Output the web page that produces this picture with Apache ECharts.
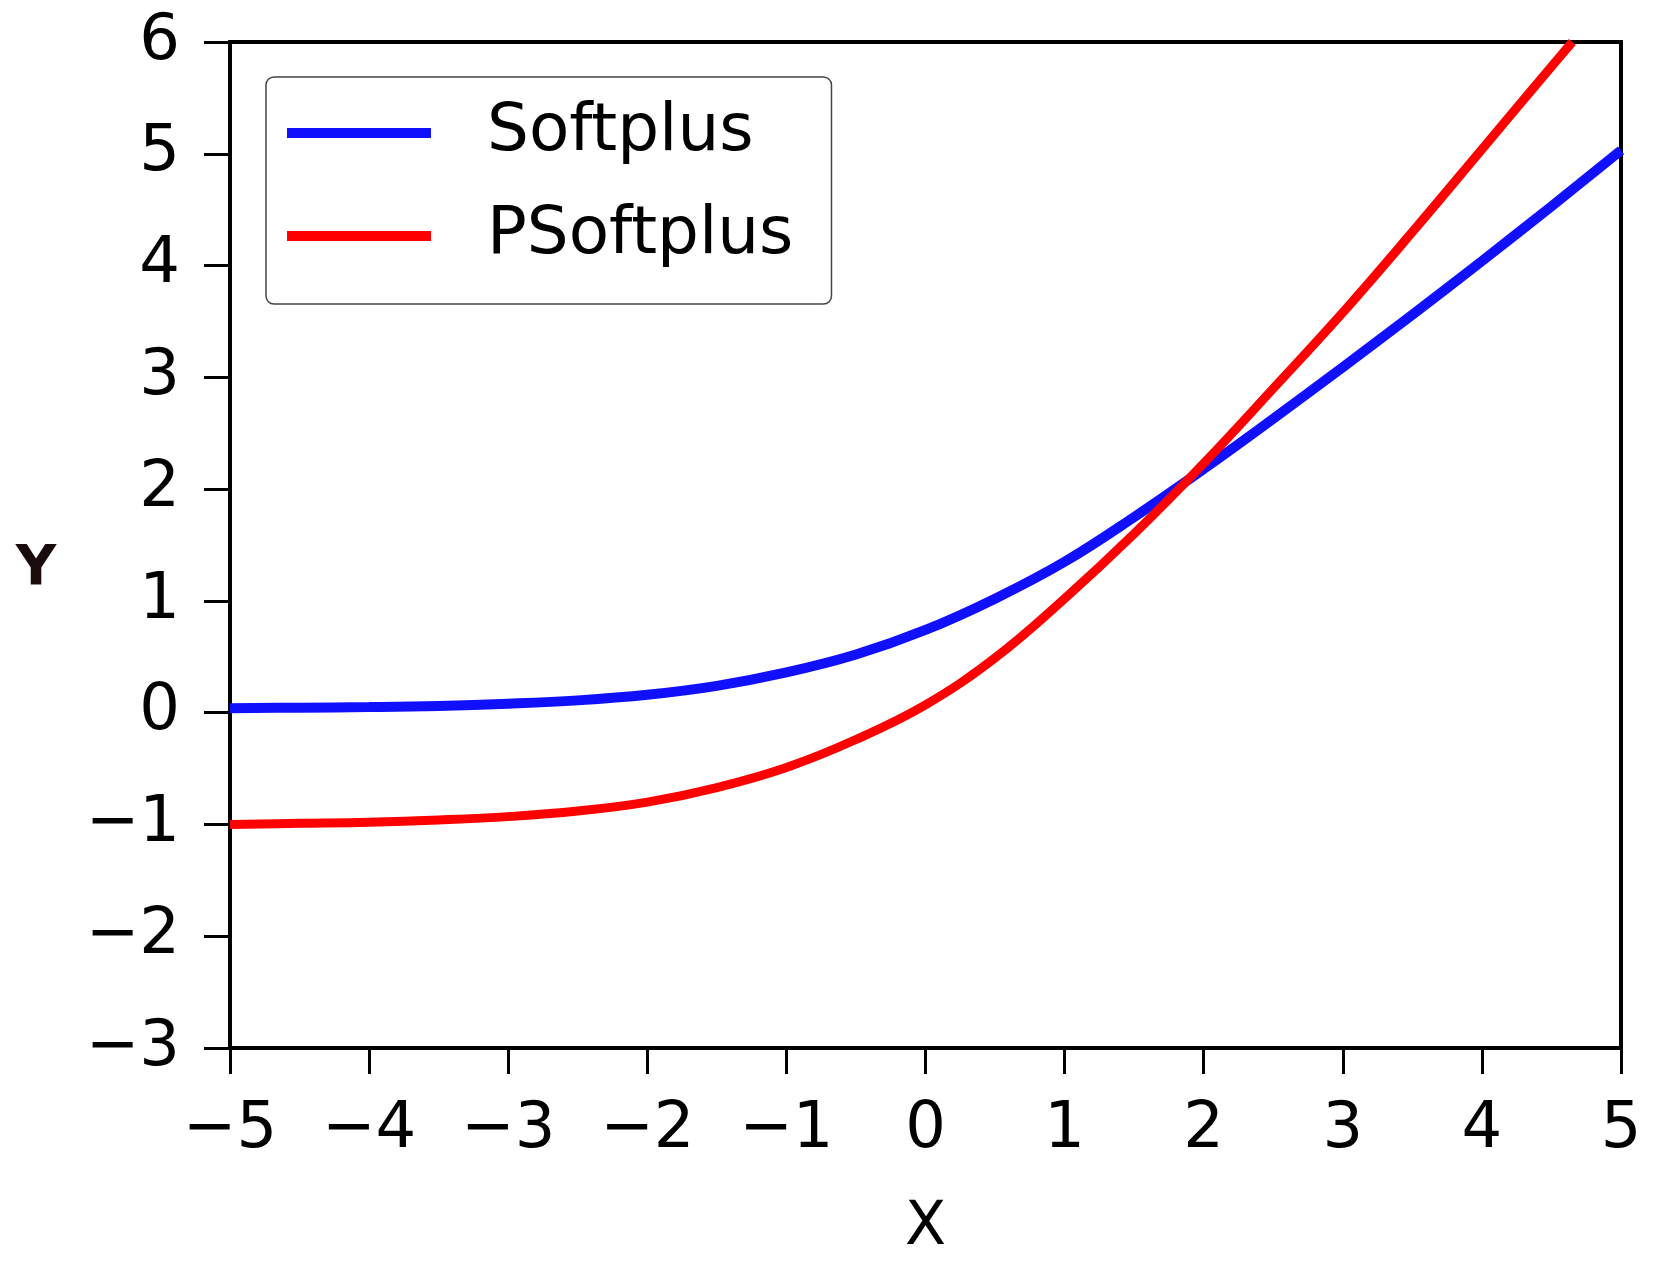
<!DOCTYPE html>
<html>
<head>
<meta charset="utf-8">
<script src="https://cdn.jsdelivr.net/npm/echarts@6/dist/echarts.min.js"></script>
<style>
html,body{margin:0;padding:0;background:#fff;}
#chart{width:1668px;height:1286px;}
</style>
</head>
<body>
<div id="chart"></div>
<script>
// x positions of the sampled points
const xValues = [-5,-4.5,-4,-3.5,-3,-2.5,-2,-1.5,-1,-0.5,0,0.5,1,1.5,2,2.5,3,3.5,4,4.5,5];
// Softplus (blue)
const softplusValues = [0.04,0.045,0.05,0.06,0.08,0.11,0.16,0.24,0.36,0.52,0.74,1.02,1.35,1.75,2.18,2.63,3.09,3.56,4.04,4.53,5.03];
// PSoftplus (red); leaves the frame at the top near x = 4.65
const psoftplusX = [-5,-4.5,-4,-3.5,-3,-2.5,-2,-1.5,-1,-0.5,0,0.5,1,1.5,2,2.5,3,3.5,4,4.5,4.65];
const psoftplusValues = [-1.00,-0.99,-0.98,-0.96,-0.93,-0.88,-0.80,-0.67,-0.49,-0.24,0.07,0.49,1.02,1.60,2.23,2.90,3.58,4.30,5.04,5.78,6.00];
const seriesNames = ['Softplus','PSoftplus'];
const xTicks = {min:-5, max:5, step:1};
const yTicks = {min:-3, max:6, step:1};

const fmt = v => (v < 0 ? '\u2212' + Math.abs(v) : String(v));
const pair = (xs, ys) => xs.map((x, i) => [x, ys[i]]);

const chart = echarts.init(document.getElementById('chart'), null, {renderer:'canvas'});
const font = 'DejaVu Sans';
chart.setOption({
  backgroundColor:'#ffffff',
  animation:false,
  grid:{left:230, right:47, top:42, bottom:238, show:true, borderColor:'#000', borderWidth:4, backgroundColor:'transparent'},
  legend:{
    data:seriesNames,
    orient:'vertical',
    left:266, top:77,
    padding:[23,38,35,21],
    itemGap:37,
    itemWidth:144, itemHeight:10,
    icon:'rect',
    borderColor:'#444', borderWidth:1.5, borderRadius:8,
    textStyle:{fontFamily:font, fontSize:66, color:'#000', lineHeight:66, padding:[0,0,0,51]}
  },
  xAxis:{
    type:'value', min:xTicks.min, max:xTicks.max, interval:xTicks.step,
    name:'X', nameLocation:'middle', nameGap:150,
    nameTextStyle:{fontFamily:font, fontSize:60, color:'#000'},
    axisLine:{show:true, onZero:false, lineStyle:{color:'#000', width:4}},
    axisTick:{show:true, inside:false, length:26, lineStyle:{color:'#000', width:3}},
    axisLabel:{fontFamily:font, fontSize:64, color:'#000', margin:50, formatter:fmt},
    splitLine:{show:false}
  },
  yAxis:{
    type:'value', min:yTicks.min, max:yTicks.max, interval:yTicks.step,
    name:'Y', nameLocation:'middle', nameRotate:0, nameGap:194,
    nameTextStyle:{fontFamily:font, fontSize:56, fontWeight:'bold', color:'#1a0c0c', align:'center', verticalAlign:'top', lineHeight:48},
    axisLine:{show:true, onZero:false, lineStyle:{color:'#000', width:4}},
    axisTick:{show:true, inside:false, length:26, lineStyle:{color:'#000', width:3}},
    axisLabel:{fontFamily:font, fontSize:64, color:'#000', margin:50, formatter:fmt},
    splitLine:{show:false}
  },
  series:[
    {name:seriesNames[0], type:'line', data:pair(xValues, softplusValues), smooth:0.4, showSymbol:false, symbol:'none', clip:true,
     lineStyle:{color:'#1010ff', width:10}, itemStyle:{color:'#1010ff'}},
    {name:seriesNames[1], type:'line', data:pair(psoftplusX, psoftplusValues), smooth:0.4, showSymbol:false, symbol:'none', clip:true,
     lineStyle:{color:'#ff0000', width:9}, itemStyle:{color:'#ff0000'}}
  ]
});
</script>
</body>
</html>
